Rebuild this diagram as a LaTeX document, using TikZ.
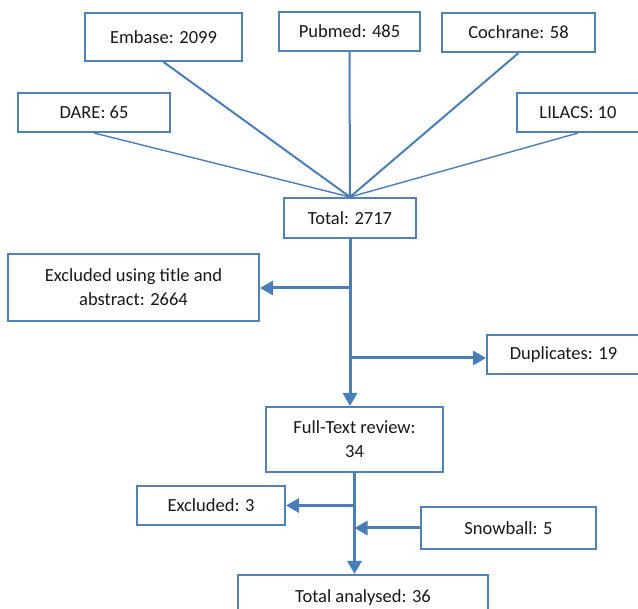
\documentclass[tikz,border=0pt]{standalone}
\usepackage{fontspec}
\setmainfont{Carlito}
\usetikzlibrary{arrows.meta}
\definecolor{bx}{HTML}{4F81BD}
\definecolor{ln}{HTML}{4A7EBB}
\begin{document}
\begin{tikzpicture}[x=1pt,y=-1pt,
  box/.style={draw=bx,line width=2pt,fill=white,inner sep=0pt,align=center,
    font=\fontsize{18.5}{24}\selectfont,text=black!90},
  fan/.style={draw=ln,line width=2pt},
  thinfan/.style={draw=ln,line width=1.4pt},
  arr/.style={draw=ln,line width=3pt,-{Triangle[length=13pt,width=14pt]}}]
\useasboundingbox (0,0) rectangle (638,609);
\node[box,minimum width=157pt,minimum height=48pt] (embase) at (163.5,37) {Embase: 2099};
\node[box,minimum width=141pt,minimum height=39pt] (pubmed) at (349.5,31.5) {Pubmed: 485};
\node[box,minimum width=153pt,minimum height=39pt] (cochrane) at (518.5,32.5) {Cochrane: 58};
\node[box,minimum width=152pt,minimum height=39pt] (dare) at (94,112.5) {DARE: 65};
\node[box,minimum width=122pt,minimum height=39pt] (lilacs) at (578,112.5) {LILACS: 10};
\node[box,minimum width=132pt,minimum height=40pt] (total) at (350,218) {Total: 2717};
\node[box,minimum width=251pt,minimum height=67pt] (excl1) at (133.5,287.5) {Excluded using title and\\abstract: 2664};
\node[box,minimum width=153pt,minimum height=39pt] (dup) at (563.5,354.5) {Duplicates: 19};
\node[box,minimum width=177pt,minimum height=65pt] (full) at (354.5,439.5) {Full-Text review:\\34};
\node[box,minimum width=148pt,minimum height=39pt] (excl2) at (211,505.5) {Excluded: 3};
\node[box,minimum width=175pt,minimum height=42pt] (snow) at (508.5,528) {Snowball: 5};
\node[box,minimum width=250pt,minimum height=46pt] (totala) at (363,598) {Total analysed: 36};

\foreach \s in {embase,pubmed,cochrane}
  \draw[fan] (\s.south) -- (total.north);
\foreach \s in {dare,lilacs}
  \draw[thinfan] (\s.south) -- (total.north);

\coordinate (b1) at (350,288);
\coordinate (b2) at (350,358);
\draw[arr] (total.south) -- (total.south |- full.north);
\draw[arr] (b1) -- (b1 -| excl1.east);
\draw[arr] (b2) -- (b2 -| dup.west);

\coordinate (b3) at (354.5,505.5);
\coordinate (b4) at (354.5,528);
\draw[arr] (full.south) -- (full.south |- totala.north);
\draw[arr] (b3) -- (excl2.east);
\draw[arr] (snow.west) -- (b4);
\end{tikzpicture}
\end{document}
